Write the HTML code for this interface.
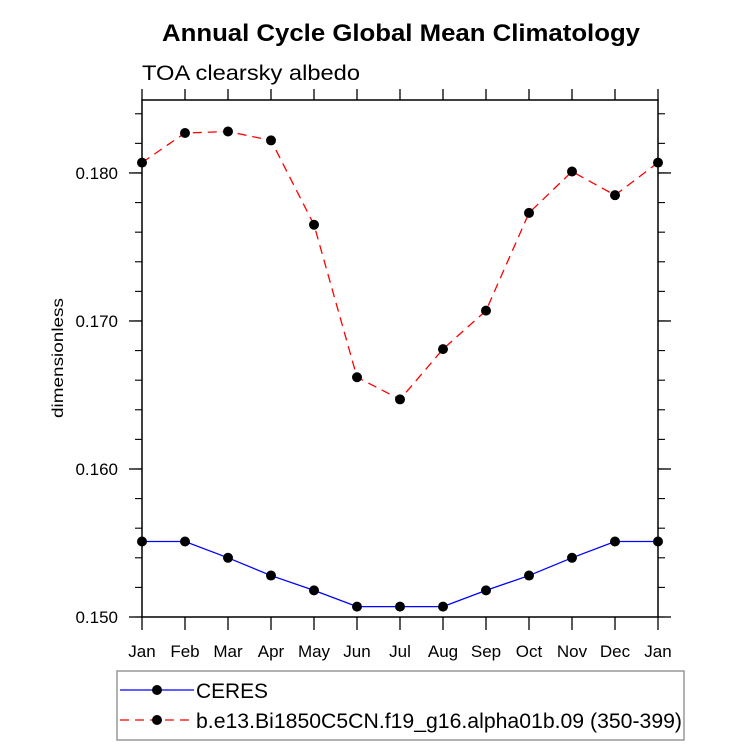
<!DOCTYPE html>
<html><head><meta charset="utf-8"><style>
html,body{margin:0;padding:0;background:#fff;}
svg{display:block;font-family:"Liberation Sans",Arial,sans-serif;}
</style></head><body>
<svg id="chart" width="733" height="746" viewBox="0 0 733 746">
<text x="162" y="41" font-size="24" font-weight="bold" textLength="478" lengthAdjust="spacingAndGlyphs">Annual Cycle Global Mean Climatology</text>
<text x="142" y="80" font-size="21" textLength="218" lengthAdjust="spacingAndGlyphs">TOA clearsky albedo</text>
<text transform="translate(63,358) rotate(-90)" text-anchor="middle" font-size="16" textLength="120" lengthAdjust="spacingAndGlyphs">dimensionless</text>
<g id="plot"></g>
<rect x="117" y="671" width="567" height="69" fill="none" stroke="#999" stroke-width="1.5"/>
<g>
<line x1="120" y1="690" x2="194" y2="690" stroke="#0000ff" stroke-width="1.3"/>
<circle cx="157" cy="690" r="5" fill="#000"/>
<text x="196" y="698" font-size="21" textLength="72" lengthAdjust="spacingAndGlyphs">CERES</text>
</g>
<g>
<line x1="120" y1="720" x2="194" y2="720" stroke="#ff0000" stroke-width="1.3" stroke-dasharray="9,6"/>
<circle cx="157" cy="720" r="5" fill="#000"/>
<text x="196" y="728" font-size="21" textLength="486" lengthAdjust="spacingAndGlyphs">b.e13.Bi1850C5CN.f19_g16.alpha01b.09 (350-399)</text>
</g>
</svg>
<script>
const months = ["Jan","Feb","Mar","Apr","May","Jun","Jul","Aug","Sep","Oct","Nov","Dec","Jan"];
const ceres = [0.1551,0.1551,0.1540,0.1528,0.1518,0.1507,0.1507,0.1507,0.1518,0.1528,0.1540,0.1551,0.1551];
const model = [0.1807,0.1827,0.1828,0.1822,0.1765,0.1662,0.1647,0.1681,0.1707,0.1773,0.1801,0.1785,0.1807];
const yTicks = [0.150,0.160,0.170,0.180];
const yTickLabels = ["0.150","0.160","0.170","0.180"];
const yMin = 0.150, yMax = 0.18493;

const NS = "http://www.w3.org/2000/svg";
const L = 142, R = 658, T = 100, B = 617;
const xs = i => L + (R - L) * i / (months.length - 1);
const ys = v => B - (v - yMin) / (yMax - yMin) * (B - T);
const g = document.getElementById("plot");
function mk(tag, attrs, parent) {
  const e = document.createElementNS(NS, tag);
  for (const k in attrs) e.setAttribute(k, attrs[k]);
  (parent || g).appendChild(e);
  return e;
}
const frame = mk("rect", {x:L, y:T, width:R-L, height:B-T, fill:"none", stroke:"#000", "stroke-width":1.5});


months.forEach((m, i) => {
  const x = xs(i);
  mk("line", {x1:x, y1:B, x2:x, y2:B+13, stroke:"#000", "stroke-width":1.3});
  mk("line", {x1:x, y1:T, x2:x, y2:T-11, stroke:"#000", "stroke-width":1.3});
  const t = mk("text", {x:x, y:657, "text-anchor":"middle", "font-size":17});
  t.textContent = m;
  
  
});
for (let v = 0.150; v <= yMax + 1e-9; v += 0.002) {
  const y = ys(v);
  mk("line", {x1:L, y1:y, x2:L-7, y2:y, stroke:"#000", "stroke-width":1.1});
  mk("line", {x1:R, y1:y, x2:R+7, y2:y, stroke:"#000", "stroke-width":1.1});
}
yTicks.forEach((v, i) => {
  const y = ys(v);
  mk("line", {x1:L, y1:y, x2:L-13, y2:y, stroke:"#000", "stroke-width":1.3});
  mk("line", {x1:R, y1:y, x2:R+13, y2:y, stroke:"#000", "stroke-width":1.3});
  const t = mk("text", {x:118, y:y+6, "text-anchor":"end", "font-size":17});
  t.textContent = yTickLabels[i];
  
  
});
function series(vals, color, dash, name) {
  const pts = vals.map((v, i) => xs(i) + "," + ys(v)).join(" ");
  const attrs = {points:pts, fill:"none", stroke:color, "stroke-width":1.3};
  if (dash) attrs["stroke-dasharray"] = dash;
  const pl = mk("polyline", attrs);
  
  
  vals.forEach((v, i) => {
    const c = mk("circle", {cx:xs(i), cy:ys(v), r:5, fill:"#000"});
    
    
  });
}
series(ceres, "#0000ff", null, "ceres");
series(model, "#ff0000", "9,6", "model");
</script>
</body></html>
